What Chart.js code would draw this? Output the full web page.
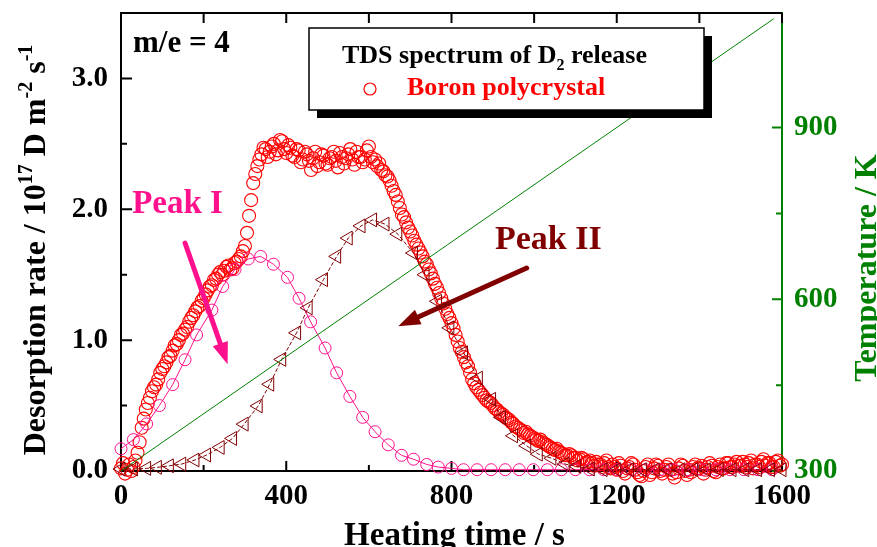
<!DOCTYPE html>
<html>
<head>
<meta charset="utf-8">
<script src="https://cdn.jsdelivr.net/npm/chart.js@4.4.0/dist/chart.umd.min.js"></script>
<style>
  html, body { margin: 0; padding: 0; background: #fff; }
</style>
</head>
<body>
<canvas id="tds" width="877" height="547"></canvas>
<script>
const SERIF = "'Liberation Serif', 'Times New Roman', serif";
const RED = '#ff0000';
const PINK = '#ff108c';
const MAROON = '#800000';
const GREEN = '#008000';

// measured D2 release, boron polycrystal (heating time / s, rate / 1e17 D m^-2 s^-1)
const boronTime = [
  0, 5, 10, 15, 20, 25, 30, 35, 40, 45, 50, 55, 60, 65, 70, 75, 80, 85, 90, 95,
  100, 105, 110, 115, 120, 125, 130, 135, 140, 145, 150, 155, 160, 165, 170, 175, 180, 185, 190, 195,
  200, 205, 210, 215, 220, 225, 230, 235, 240, 245, 250, 255, 260, 265, 270, 275, 280, 285, 290, 295,
  300, 305, 310, 315, 320, 325, 330, 335, 340, 345, 350, 355, 360, 365, 370, 375, 380, 385, 390, 395,
  400, 405, 410, 415, 420, 425, 430, 435, 440, 445, 450, 455, 460, 465, 470, 475, 480, 485, 490, 495,
  500, 505, 510, 515, 520, 525, 530, 535, 540, 545, 550, 555, 560, 565, 570, 575, 580, 585, 590, 595,
  600, 605, 610, 615, 620, 625, 630, 635, 640, 645, 650, 655, 660, 665, 670, 675, 680, 685, 690, 695,
  700, 705, 710, 715, 720, 725, 730, 735, 740, 745, 750, 755, 760, 765, 770, 775, 780, 785, 790, 795,
  800, 805, 810, 815, 820, 825, 830, 835, 840, 845, 850, 855, 860, 865, 870, 875, 880, 885, 890, 895,
  900, 905, 910, 915, 920, 925, 930, 935, 940, 945, 950, 955, 960, 965, 970, 975, 980, 985, 990, 995,
  1000, 1005, 1010, 1015, 1020, 1025, 1030, 1035, 1040, 1045, 1050, 1055, 1060, 1065, 1070, 1075, 1080, 1085, 1090, 1095,
  1100, 1105, 1110, 1115, 1120, 1125, 1130, 1135, 1140, 1145, 1150, 1155, 1160, 1165, 1170, 1175, 1180, 1185, 1190, 1195,
  1200, 1205, 1210, 1215, 1220, 1225, 1230, 1235, 1240, 1245, 1250, 1255, 1260, 1265, 1270, 1275, 1280, 1285, 1290, 1295,
  1300, 1305, 1310, 1315, 1320, 1325, 1330, 1335, 1340, 1345, 1350, 1355, 1360, 1365, 1370, 1375, 1380, 1385, 1390, 1395,
  1400, 1405, 1410, 1415, 1420, 1425, 1430, 1435, 1440, 1445, 1450, 1455, 1460, 1465, 1470, 1475, 1480, 1485, 1490, 1495,
  1500, 1505, 1510, 1515, 1520, 1525, 1530, 1535, 1540, 1545, 1550, 1555, 1560, 1565, 1570, 1575, 1580, 1585, 1590, 1595,
  1600
];
const boronRate = [
  0.02, 0.06, -0.02, 0.01, 0.05, 0.00, 0.03, 0.08, 0.14, 0.22, 0.33, 0.40, 0.47, 0.52, 0.56, 0.61, 0.64, 0.66, 0.70, 0.75,
  0.78, 0.80, 0.83, 0.87, 0.88, 0.92, 0.96, 0.97, 1.00, 1.04, 1.05, 1.08, 1.10, 1.14, 1.17, 1.19, 1.22, 1.25, 1.26, 1.30,
  1.32, 1.35, 1.38, 1.41, 1.42, 1.46, 1.47, 1.50, 1.52, 1.50, 1.53, 1.56, 1.57, 1.54, 1.55, 1.59, 1.60, 1.62, 1.64, 1.68,
  1.72, 1.82, 1.95, 2.07, 2.20, 2.27, 2.33, 2.38, 2.42, 2.47, 2.46, 2.40, 2.44, 2.48, 2.50, 2.42, 2.45, 2.53, 2.52, 2.46,
  2.43, 2.49, 2.47, 2.41, 2.40, 2.46, 2.45, 2.36, 2.38, 2.44, 2.42, 2.37, 2.30, 2.39, 2.44, 2.33, 2.36, 2.42, 2.41, 2.35,
  2.34, 2.39, 2.40, 2.44, 2.37, 2.32, 2.43, 2.40, 2.35, 2.39, 2.42, 2.46, 2.38, 2.34, 2.44, 2.40, 2.40, 2.36, 2.38, 2.45,
  2.48, 2.40, 2.36, 2.38, 2.33, 2.35, 2.30, 2.29, 2.26, 2.25, 2.22, 2.18, 2.14, 2.11, 2.06, 2.01, 1.96, 1.94, 1.90, 1.86,
  1.83, 1.80, 1.76, 1.73, 1.70, 1.67, 1.64, 1.60, 1.58, 1.54, 1.51, 1.47, 1.43, 1.40, 1.36, 1.32, 1.28, 1.24, 1.20, 1.17,
  1.13, 1.09, 1.04, 0.99, 0.94, 0.91, 0.87, 0.83, 0.80, 0.75, 0.70, 0.67, 0.64, 0.62, 0.60, 0.58, 0.56, 0.54, 0.53, 0.52,
  0.50, 0.48, 0.47, 0.45, 0.44, 0.43, 0.41, 0.40, 0.39, 0.37, 0.36, 0.34, 0.33, 0.32, 0.31, 0.29, 0.30, 0.28, 0.27, 0.26,
  0.25, 0.24, 0.23, 0.24, 0.22, 0.21, 0.20, 0.19, 0.18, 0.17, 0.16, 0.17, 0.15, 0.14, 0.13, 0.12, 0.12, 0.13, 0.12, 0.10,
  0.10, 0.08, 0.09, 0.10, 0.09, 0.06, 0.07, 0.08, 0.06, 0.04, 0.07, 0.05, 0.05, 0.03, 0.06, 0.08, 0.03, 0.02, 0.05, 0.03,
  0.01, 0.06, 0.04, 0.00, -0.02, 0.02, 0.03, 0.06, 0.05, 0.01, -0.01, -0.03, -0.04, 0.00, 0.03, 0.05, -0.03, -0.01, 0.02, 0.05,
  0.04, 0.00, -0.02, 0.01, 0.03, 0.05, 0.01, -0.02, -0.05, -0.01, 0.02, 0.05, 0.04, 0.00, -0.03, 0.01, -0.01, 0.03, 0.05, 0.02,
  0.02, 0.04, -0.02, 0.01, 0.03, 0.06, 0.04, 0.00, -0.01, 0.03, 0.05, 0.02, 0.02, 0.06, 0.06, 0.03, 0.03, 0.05, 0.07, 0.04,
  0.04, 0.07, 0.05, 0.03, 0.06, 0.08, 0.02, 0.05, 0.05, 0.03, 0.07, 0.09, 0.04, 0.06, 0.06, 0.03, 0.03, 0.07, 0.08, 0.04,
  0.05
];

// fitted Peak I
const peak1Time = [0, 30, 62, 93, 125, 155, 183, 220, 246, 276, 308, 338, 369, 403, 431, 459,
  494, 522, 554, 585, 615, 647, 679, 708, 740, 768, 800, 829, 862, 896, 930, 964, 998,
  1032, 1066, 1100, 1134, 1168, 1202, 1236, 1270, 1304, 1338, 1372, 1406, 1440, 1474,
  1508, 1542, 1576];
const peak1Rate = [0.17, 0.24, 0.36, 0.50, 0.66, 0.85, 1.04, 1.23, 1.41, 1.54, 1.62, 1.64, 1.58, 1.48, 1.32, 1.14,
  0.94, 0.75, 0.57, 0.41, 0.30, 0.20, 0.12, 0.09, 0.05, 0.03, 0.02, 0.01, 0.01, 0.01, 0.01, 0.01, 0.01,
  0.01, 0.01, 0.01, 0.01, 0.01, 0.01, 0.01, 0.01, 0.01, 0.01, 0.01, 0.01, 0.01, 0.01,
  0.01, 0.01, 0.01];

// fitted Peak II
const peak2Time = [0, 30, 62, 88, 117, 147, 179, 207, 240, 270, 298, 332, 360, 389, 425, 453,
  490, 522, 550, 581, 609, 639, 670, 708, 736, 766, 796, 829, 865, 897, 921, 950, 982,
  1010, 1043, 1075, 1103, 1136, 1167, 1200, 1231, 1262, 1293, 1324, 1355, 1386, 1417,
  1448, 1479, 1510, 1541, 1572, 1600];
const peak2Rate = [0.015, 0.015, 0.02, 0.028, 0.04, 0.053, 0.084, 0.122, 0.18, 0.249, 0.358, 0.497, 0.663, 0.853, 1.056, 1.247,
  1.462, 1.64, 1.78, 1.873, 1.919, 1.887, 1.81, 1.666, 1.5, 1.297, 1.094, 0.904, 0.71, 0.548, 0.409, 0.269, 0.193,
  0.129, 0.097, 0.053, 0.036, 0.015, 0.01, 0.01, 0.01, 0.01, 0.01, 0.01, 0.01, 0.01, 0.01,
  0.01, 0.01, 0.01, 0.01, 0.01, 0.01];

// sample temperature (right axis)
const tempTime = [0, 1580];
const tempK = [300, 1090];

// tick labels
const xLabels = [0, 400, 800, 1200, 1600];
const yLabels = [0, 1, 2, 3];
const tLabels = [300, 600, 900];

const pairs = (xs, ys) => xs.map((v, i) => ({ x: v, y: ys[i] }));

function arrow(ctx, x0, y0, x1, y1, color) {
  const ang = Math.atan2(y1 - y0, x1 - x0);
  const head = 22, half = 8;
  const bx = x1 - Math.cos(ang) * head, by = y1 - Math.sin(ang) * head;
  ctx.strokeStyle = color;
  ctx.fillStyle = color;
  ctx.lineWidth = 5;
  ctx.lineCap = 'round';
  ctx.beginPath();
  ctx.moveTo(x0, y0);
  ctx.lineTo(bx, by);
  ctx.stroke();
  ctx.beginPath();
  ctx.moveTo(x1, y1);
  ctx.lineTo(bx + Math.sin(ang) * half, by - Math.cos(ang) * half);
  ctx.lineTo(bx - Math.sin(ang) * half, by + Math.cos(ang) * half);
  ctx.closePath();
  ctx.fill();
}

// write text runs with sub/superscripts, returns width
function runs(ctx, parts, x, y, size, draw) {
  let cx = x;
  parts.forEach(p => {
    const s = p.sup || p.sub ? Math.round(size * 0.62) : size;
    ctx.font = 'bold ' + s + 'px ' + SERIF;
    const dy = p.sup ? -size * 0.42 : p.sub ? size * 0.28 : 0;
    if (draw) ctx.fillText(p.t, cx, y + dy);
    cx += ctx.measureText(p.t).width;
  });
  return cx - x;
}

// keep the plot box where the reference has it
function noPad(s) {
  s.paddingTop = 0;
  s.paddingBottom = 0;
  s.paddingLeft = 0;
  s.paddingRight = 0;
}

const decor = {
  id: 'decor',
  beforeDatasetsDraw(chart) {
    const { ctx, chartArea: a, scales: { x, y, y1 } } = chart;
    ctx.save();
    ctx.lineWidth = 2;
    ctx.strokeStyle = '#000';
    ctx.beginPath();
    ctx.moveTo(a.left - 1, a.top);
    ctx.lineTo(a.right, a.top);
    x.ticks.forEach(t => {
      const px = x.getPixelForValue(t.value);
      ctx.moveTo(px, a.bottom);
      ctx.lineTo(px, a.bottom - (t.value % 400 === 0 ? 10 : 6));
      ctx.moveTo(px, a.top);
      ctx.lineTo(px, a.top + 10);
    });
    y.ticks.forEach(t => {
      const py = y.getPixelForValue(t.value);
      ctx.moveTo(a.left, py);
      ctx.lineTo(a.left + (Number.isInteger(t.value) ? 11 : 6), py);
    });
    ctx.stroke();
    ctx.strokeStyle = GREEN;
    ctx.beginPath();
    y1.ticks.forEach(t => {
      if ((t.value - 300) % 150 !== 0 || t.value > 1050) return;
      const py = y1.getPixelForValue(t.value);
      ctx.moveTo(a.right, py);
      ctx.lineTo(a.right - (t.value % 300 === 0 ? 10 : 6), py);
    });
    ctx.stroke();
    ctx.restore();
  },
  afterDraw(chart) {
    const { ctx, chartArea: a, scales: { x, y } } = chart;
    ctx.save();
    ctx.textBaseline = 'alphabetic';
    ctx.textAlign = 'left';

    // annotations
    ctx.fillStyle = '#000';
    ctx.font = 'bold 31px ' + SERIF;
    ctx.fillText('m/e = 4', x.getPixelForValue(29), y.getPixelForValue(3.2));
    ctx.fillStyle = PINK;
    ctx.font = 'bold 33px ' + SERIF;
    ctx.fillText('Peak I', x.getPixelForValue(27), y.getPixelForValue(1.97));
    ctx.fillStyle = MAROON;
    ctx.font = 'bold 34px ' + SERIF;
    ctx.fillText('Peak II', x.getPixelForValue(905), y.getPixelForValue(1.70));
    arrow(ctx, x.getPixelForValue(155), y.getPixelForValue(1.742),
      x.getPixelForValue(258), y.getPixelForValue(0.815), PINK);
    arrow(ctx, x.getPixelForValue(982), y.getPixelForValue(1.551),
      x.getPixelForValue(671), y.getPixelForValue(1.107), MAROON);

    // legend box with drop shadow
    ctx.fillStyle = '#000';
    ctx.fillRect(317, 36, 395, 82);
    ctx.fillStyle = '#fff';
    ctx.fillRect(309, 28, 395, 82);
    ctx.strokeStyle = '#000';
    ctx.lineWidth = 1.5;
    ctx.strokeRect(309, 28, 395, 82);
    ctx.fillStyle = '#000';
    runs(ctx, [{ t: 'TDS spectrum of D' }, { t: '2', sub: true }, { t: ' release' }], 342, 63, 26, true);
    ctx.strokeStyle = RED;
    ctx.lineWidth = 1.2;
    ctx.beginPath();
    ctx.arc(370, 89, 6, 0, Math.PI * 2);
    ctx.stroke();
    ctx.fillStyle = RED;
    ctx.font = 'bold 26px ' + SERIF;
    ctx.fillText('Boron polycrystal', 407, 95);

    // axis titles
    ctx.fillStyle = '#000';
    ctx.textAlign = 'center';
    ctx.font = 'bold 33px ' + SERIF;
    ctx.fillText('Heating time / s', (a.left + a.right) / 2 + 3, 545);

    ctx.textAlign = 'left';
    const leftParts = [{ t: 'Desorption rate / 10' }, { t: '17', sup: true }, { t: ' D m' },
      { t: '-2', sup: true }, { t: ' s' }, { t: '-1', sup: true }];
    ctx.save();
    ctx.translate(45, 250);
    ctx.rotate(-Math.PI / 2);
    const w = runs(ctx, leftParts, 0, 0, 32, false);
    runs(ctx, leftParts, -w / 2, 0, 32, true);
    ctx.restore();

    ctx.save();
    ctx.fillStyle = GREEN;
    ctx.textAlign = 'center';
    ctx.font = 'bold 32px ' + SERIF;
    ctx.translate(876, 268);
    ctx.rotate(-Math.PI / 2);
    ctx.fillText('Temperature / K', 0, 0);
    ctx.restore();

    ctx.restore();
  }
};

const tickFont = { family: SERIF, size: 29, weight: 'bold' };

new Chart(document.getElementById('tds'), {
  type: 'scatter',
  data: {
    datasets: [
      {
        label: 'Temperature',
        data: pairs(tempTime, tempK),
        yAxisID: 'y1',
        showLine: true,
        borderColor: GREEN,
        borderWidth: 1,
        pointRadius: 0,
        clip: false,
        order: 0
      },
      {
        label: 'Peak II',
        data: pairs(peak2Time, peak2Rate),
        showLine: true,
        borderColor: MAROON,
        borderWidth: 1,
        borderDash: [4, 2],
        pointStyle: 'triangle',
        rotation: -90,
        pointRadius: 8,
        pointBorderWidth: 1,
        pointBorderColor: MAROON,
        pointBackgroundColor: 'rgba(0,0,0,0)',
        clip: false,
        order: 1
      },
      {
        label: 'Peak I',
        data: pairs(peak1Time, peak1Rate),
        showLine: true,
        borderColor: PINK,
        borderWidth: 1,
        pointRadius: 6,
        pointBorderWidth: 1,
        pointBorderColor: PINK,
        pointBackgroundColor: 'rgba(0,0,0,0)',
        clip: false,
        order: 2
      },
      {
        label: 'Boron polycrystal',
        data: pairs(boronTime, boronRate),
        showLine: false,
        pointRadius: 6.5,
        pointBorderWidth: 1.1,
        pointBorderColor: RED,
        pointBackgroundColor: 'rgba(0,0,0,0)',
        clip: false,
        order: 3
      }
    ]
  },
  options: {
    responsive: false,
    animation: false,
    devicePixelRatio: 1,
    layout: { padding: { top: 13, left: 0, right: 0, bottom: 0 } },
    plugins: { legend: { display: false }, tooltip: { enabled: false } },
    scales: {
      x: {
        type: 'linear',
        position: 'bottom',
        min: 0,
        max: 1600,
        grid: { display: false, drawTicks: false },
        border: { display: true, color: '#000', width: 2 },
        ticks: {
          stepSize: 200,
          autoSkip: false,
          maxRotation: 0,
          padding: 8,
          color: '#000',
          font: tickFont,
          callback: v => xLabels.includes(v) ? String(v) : ''
        },
        afterFit: s => { s.height = 76; noPad(s); }
      },
      y: {
        position: 'left',
        min: 0,
        max: 3.5,
        grid: { display: false, drawTicks: false },
        border: { display: true, color: '#000', width: 2 },
        ticks: {
          stepSize: 0.5,
          autoSkip: false,
          padding: 13,
          color: '#000',
          font: tickFont,
          callback: v => yLabels.includes(v) ? v.toFixed(1) : ''
        },
        afterFit: s => { s.width = 121; noPad(s); }
      },
      y1: {
        position: 'right',
        min: 300,
        max: 1100,
        grid: { display: false, drawTicks: false },
        border: { display: true, color: GREEN, width: 2 },
        ticks: {
          stepSize: 150,
          autoSkip: false,
          padding: 12,
          color: GREEN,
          font: tickFont,
          callback: v => tLabels.includes(v) ? String(v) : ''
        },
        afterFit: s => { s.width = 95; noPad(s); }
      }
    }
  },
  plugins: [decor]
});
</script>
</body>
</html>
